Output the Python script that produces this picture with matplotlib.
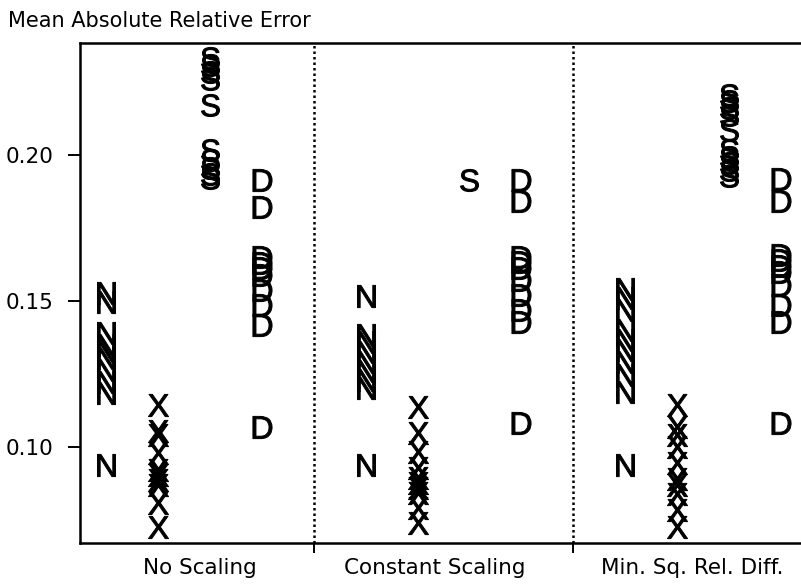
import numpy as np
import matplotlib
matplotlib.use('Agg')
import matplotlib.pyplot as plt
from matplotlib.textpath import TextPath
from matplotlib.font_manager import FontProperties
from matplotlib.transforms import Affine2D

# letters used as plotting symbols, one per error measure
categories = ['N', 'X', 'S', 'D']
methods = ['No Scaling', 'Constant Scaling', 'Min. Sq. Rel. Diff.']

# values (mean absolute relative error)
noscale_N = [0.1527, 0.1497, 0.1390, 0.1349, 0.1330, 0.1305, 0.1264, 0.1223, 0.1185, 0.0938]
noscale_X = [0.1144, 0.1056, 0.1041, 0.0979, 0.0921, 0.0904, 0.0887, 0.0870, 0.0808, 0.0726]
noscale_S = [0.2332, 0.2308, 0.2284, 0.2260, 0.2171, 0.2017, 0.1983, 0.1955, 0.1935, 0.1921]
noscale_D = [0.1914, 0.1822, 0.1651, 0.1630, 0.1613, 0.1589, 0.1538, 0.1486, 0.1418, 0.1068]

const_N = [0.1517, 0.1384, 0.1360, 0.1325, 0.1290, 0.1260, 0.1230, 0.1202, 0.0938]
const_X = [0.1137, 0.1048, 0.0983, 0.0928, 0.0894, 0.0877, 0.0860, 0.0842, 0.0790, 0.0740]
const_S = [0.1914]
const_D = [0.1914, 0.1842, 0.1651, 0.1634, 0.1613, 0.1572, 0.1521, 0.1469, 0.1428, 0.1082]

minsq_N = [0.1541, 0.1510, 0.1469, 0.1401, 0.1366, 0.1332, 0.1291, 0.1247, 0.1188, 0.0938]
minsq_X = [0.1144, 0.1068, 0.1041, 0.1000, 0.0945, 0.0890, 0.0870, 0.0840, 0.0784, 0.0726]
minsq_S = [0.2205, 0.2185, 0.2161, 0.2137, 0.2086, 0.2017, 0.1993, 0.1973, 0.1949, 0.1928]
minsq_D = [0.1918, 0.1842, 0.1658, 0.1640, 0.1620, 0.1599, 0.1555, 0.1486, 0.1428, 0.1082]

panels = [
    [noscale_N, noscale_X, noscale_S, noscale_D],
    [const_N, const_X, const_S, const_D],
    [minsq_N, minsq_X, minsq_S, minsq_D],
]

yticks = [0.10, 0.15, 0.20]

LETTER_HEIGHT_PT = 16.0   # about 22 px at 100 dpi


def letter_marker(ch, xstretch=1.0):
    """Helvetica-like letter outline, centred, plus the scatter size that
    gives it a fixed cap height (matplotlib normalises by the larger side)."""
    tp = TextPath((0, 0), ch, size=1, prop=FontProperties(family='Liberation Sans'))
    ext = tp.get_extents()
    tr = Affine2D().translate(-(ext.x0 + ext.x1) / 2, -(ext.y0 + ext.y1) / 2).scale(xstretch, 1)
    path = tr.transform_path(tp)
    # scale by the largest vertex, the same way matplotlib does
    half = np.abs(path.vertices).max(axis=0)
    size = LETTER_HEIGHT_PT * half.max() / (ext.height / 2)
    return path, size ** 2


fig = plt.figure(figsize=(8.01, 5.84), dpi=100)
# right edge sits just past the figure, like the scanned original
ax = fig.add_axes([80 / 801, 41 / 584, 727 / 801, 500 / 584])

for p, series in enumerate(panels):
    for c, vals in enumerate(series):
        path, s = letter_marker(categories[c])
        x = np.full(len(vals), p * 5 + c + 1)
        ax.scatter(x, vals, marker=path, s=s,
                   facecolor='black', edgecolor='black', linewidths=0.7, zorder=3)

# dotted panel separators
for xs in [5, 10]:
    ax.axvline(xs, color='black', lw=1.8, linestyle=(0, (1, 1.2)), zorder=1)

ax.set_xlim(0.5, 14.5)
ax.set_ylim(0.0671, 0.2384)

ax.set_yticks(yticks)
ax.set_yticklabels(['%.2f' % t for t in yticks])
ax.tick_params(axis='y', direction='out', length=9, width=1.4, pad=10, labelsize=15.5)

ax.set_xticks([5, 10])
ax.set_xticklabels([])
ax.tick_params(axis='x', which='major', direction='out', length=7, width=1.4)
ax.set_xticks([2.81, 7.34, 12.29], minor=True)
ax.set_xticklabels(methods, minor=True)
ax.tick_params(axis='x', which='minor', length=0, pad=11, labelsize=15.5)

for side in ['left', 'bottom', 'top', 'right']:
    ax.spines[side].set_linewidth(1.8)

fig.text(8 / 801, 1 - 27 / 584, 'Mean Absolute Relative Error', fontsize=15,
         ha='left', va='baseline')

fig.savefig('out.png', dpi=100)
